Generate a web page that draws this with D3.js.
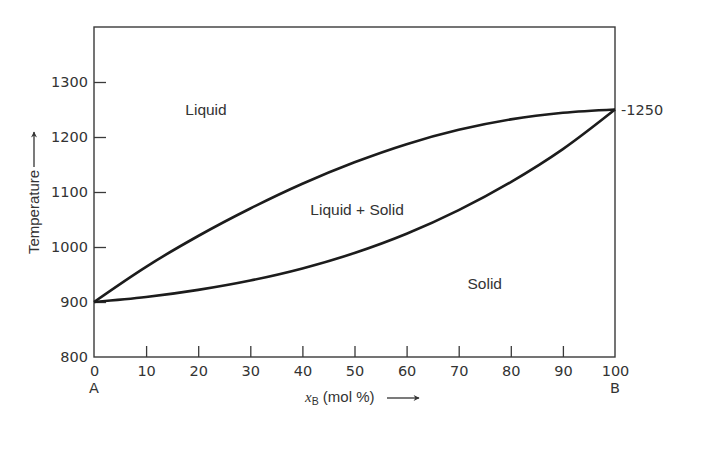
<!DOCTYPE html>
<html>
<head>
<meta charset="utf-8">
<script src="https://cdn.jsdelivr.net/npm/d3@7"></script>
<style>
  html, body { margin: 0; padding: 0; background: #fff; }
  svg { display: block; }
</style>
</head>
<body>
<svg id="chart" width="719" height="454"></svg>
<script>
// ---- data ----
const xB = [0, 10, 20, 30, 40, 50, 60, 70, 80, 90, 100];
const liquidusT = [900, 964, 1020, 1070, 1115, 1154, 1187, 1213, 1232, 1244, 1250];
const solidusT  = [900, 909, 922, 939, 961, 989, 1024, 1067, 1118, 1178, 1250];
const xTicks = [0, 10, 20, 30, 40, 50, 60, 70, 80, 90, 100];
const yTicks = [800, 900, 1000, 1100, 1200, 1300];
const endLabels = [{x: 0, text: "A"}, {x: 100, text: "B"}];
const regionLabels = [
  {x: 21.5, t: 1240, text: "Liquid"},
  {x: 50.5, t: 1058, text: "Liquid + Solid"},
  {x: 75, t: 924, text: "Solid"}
];
const meltB = 1250;

(function () {
// ---- layout ----
const svg = d3.select("#chart");
const mL = 94, mR = 615, mT = 27, mB = 357;
const x = d3.scaleLinear().domain([0, 100]).range([mL, mR]);
const y = d3.scaleLinear().domain([800, 1400]).range([mB, mT]);

const numFont = "'DejaVu Sans', 'Liberation Sans', sans-serif";
const txtFont = "'Liberation Sans', Arial, sans-serif";
const ink = "#333";
const numSize = 14.5;

// frame
svg.append("rect")
  .attr("x", mL).attr("y", mT)
  .attr("width", mR - mL).attr("height", mB - mT)
  .attr("fill", "none").attr("stroke", "#3a3a3a").attr("stroke-width", 1.4);

// x axis
const gx = svg.append("g").attr("transform", `translate(0,${mB})`)
  .call(d3.axisBottom(x).tickValues(xTicks).tickSize(-11).tickPadding(9).tickFormat(d3.format("d")));
gx.select(".domain").remove();
gx.selectAll(".tick line").attr("stroke", "#3a3a3a").attr("stroke-width", 1.3)
  .filter(d => d === 0 || d === 100).remove();
gx.selectAll(".tick text").attr("font-family", numFont).attr("font-size", numSize).attr("fill", ink);

// y axis
const gy = svg.append("g").attr("transform", `translate(${mL},0)`)
  .call(d3.axisLeft(y).tickValues(yTicks).tickSize(-12).tickPadding(6).tickFormat(d3.format("d")));
gy.select(".domain").remove();
gy.selectAll(".tick line").attr("stroke", "#3a3a3a").attr("stroke-width", 1.3)
  .filter(d => d === 800).remove();
gy.selectAll(".tick text").attr("font-family", numFont).attr("font-size", numSize).attr("fill", ink);

// A / B
svg.selectAll("text.end").data(endLabels).join("text")
  .attr("class", "end")
  .attr("x", d => x(d.x)).attr("y", mB + 36)
  .attr("text-anchor", "middle")
  .attr("font-family", numFont).attr("font-size", numSize).attr("fill", ink)
  .text(d => d.text);

// right label -1250
svg.append("text")
  .attr("x", mR + 6).attr("y", y(meltB)).attr("dy", "0.35em")
  .attr("font-family", numFont).attr("font-size", numSize).attr("fill", ink)
  .text("-" + meltB);

// curves
const line = d3.line().x(d => x(d[0])).y(d => y(d[1])).curve(d3.curveMonotoneX);
svg.append("path").datum(xB.map((v, i) => [v, liquidusT[i]]))
  .attr("d", line).attr("fill", "none").attr("stroke", "#1c1c1c").attr("stroke-width", 2.6);
svg.append("path").datum(xB.map((v, i) => [v, solidusT[i]]))
  .attr("d", line).attr("fill", "none").attr("stroke", "#1c1c1c").attr("stroke-width", 2.6);

// region labels
svg.selectAll("text.region").data(regionLabels).join("text")
  .attr("class", "region")
  .attr("x", d => x(d.x)).attr("y", d => y(d.t))
  .attr("text-anchor", "middle")
  .attr("font-family", txtFont).attr("font-size", 15.5).attr("fill", ink)
  .text(d => d.text);

// arrow marker
const defs = svg.append("defs");
defs.append("marker").attr("id", "arr")
  .attr("viewBox", "0 0 10 10").attr("refX", 9).attr("refY", 5)
  .attr("markerWidth", 10).attr("markerHeight", 6).attr("markerUnits", "userSpaceOnUse")
  .attr("orient", "auto")
  .append("path").attr("d", "M0,0 L10,5 L0,10 L3,5 Z").attr("fill", ink);

// x label
const xl = svg.append("text")
  .attr("x", 305).attr("y", 402)
  .attr("font-family", txtFont).attr("font-size", 15).attr("fill", ink);
xl.append("tspan").attr("font-style", "italic").attr("font-family", "'Liberation Serif', serif").text("x");
xl.append("tspan").attr("font-size", 10.5).attr("dy", 3).text("B");
xl.append("tspan").attr("dy", -3).text(" (mol %)");
svg.append("line").attr("x1", 387).attr("x2", 419).attr("y1", 398).attr("y2", 398)
  .attr("stroke", ink).attr("stroke-width", 1.3).attr("marker-end", "url(#arr)");

// y label
svg.append("text")
  .attr("transform", "translate(39,212) rotate(-90)")
  .attr("text-anchor", "middle")
  .attr("font-family", txtFont).attr("font-size", 15).attr("fill", ink)
  .text("Temperature");
svg.append("line").attr("x1", 34).attr("x2", 34).attr("y1", 167).attr("y2", 132)
  .attr("stroke", ink).attr("stroke-width", 1.3).attr("marker-end", "url(#arr)");
})();
</script>
</body>
</html>
